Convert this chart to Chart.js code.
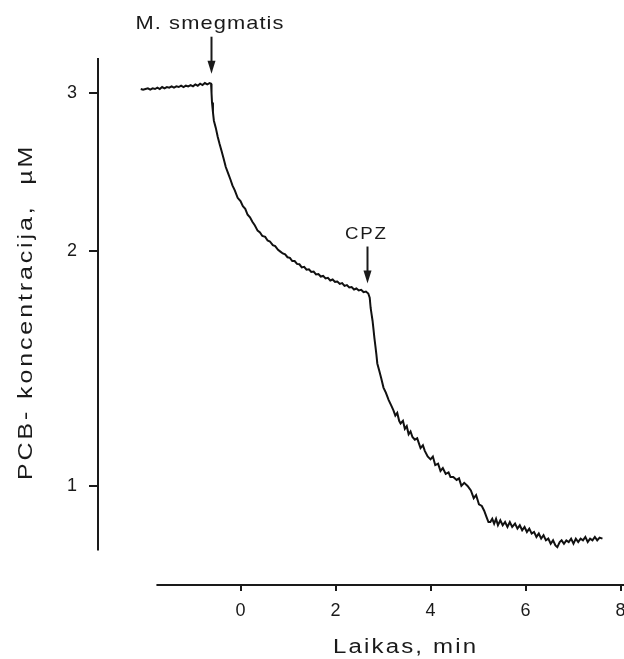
<!DOCTYPE html>
<html>
<head>
<meta charset="utf-8">
<script src="https://cdn.jsdelivr.net/npm/chart.js@4.4.1/dist/chart.umd.min.js"></script>
<style>
  html, body { margin: 0; padding: 0; background: #fff; }
  #wrap { width: 624px; height: 659px; }
</style>
</head>
<body>
<div id="wrap"><canvas id="c" width="624" height="659"></canvas></div>
<script>
// ---- data (time in min, PCB concentration in µM) ----
const TIME_MIN = [
  -2.10,-2.05,-2.00,-1.95,-1.90,-1.85,-1.80,-1.75,-1.70,-1.65,-1.60,-1.55,-1.50,-1.45,-1.40,-1.35,
  -1.30,-1.25,-1.20,-1.15,-1.10,-1.05,-1.00,-0.95,-0.90,-0.85,-0.80,-0.75,-0.70,-0.65,-0.62,
  -0.61,-0.60,-0.58,-0.56,-0.52,-0.48,-0.44,-0.40,-0.36,-0.31,-0.26,-0.21,-0.17,-0.12,-0.06,
  0.00,0.05,0.10,0.15,0.20,0.25,0.30,0.36,0.41,0.46,0.52,0.57,0.62,0.68,0.73,0.79,0.84,0.89,
  0.94,0.99,1.04,1.09,1.14,1.19,1.24,1.29,1.34,1.39,1.44,1.49,1.54,1.59,1.64,1.69,1.74,1.79,
  1.84,1.89,1.94,1.99,2.04,2.09,2.14,2.19,2.24,2.29,2.34,2.39,2.44,2.49,2.54,2.59,2.64,2.69,
  2.72,2.74,2.76,2.78,2.80,2.82,2.84,2.86,2.88,2.92,2.96,3.01,3.06,3.12,3.17,3.22,3.26,3.30,
  3.34,3.37,3.42,3.46,3.50,3.54,3.58,3.62,3.67,3.72,3.79,3.84,3.88,3.94,4.00,4.05,4.10,4.16,
  4.21,4.26,4.32,4.38,4.42,4.48,4.55,4.60,4.65,4.71,4.78,4.85,4.91,4.96,5.02,5.08,5.13,5.18,
  5.22,5.26,5.30,5.34,5.38,5.42,5.47,5.52,5.57,5.62,5.67,5.72,5.78,5.83,5.88,5.93,5.98,6.03,
  6.08,6.13,6.18,6.23,6.28,6.33,6.38,6.43,6.48,6.53,6.58,6.63,6.67,6.72,6.76,6.81,6.86,6.91,
  6.96,7.01,7.06,7.11,7.16,7.21,7.26,7.31,7.36,7.41,7.46,7.51,7.56,7.62
];
const CONC_UM = [
  3.030,3.025,3.030,3.035,3.025,3.035,3.030,3.040,3.030,3.045,3.035,3.045,3.040,3.050,3.040,3.050,
  3.045,3.055,3.045,3.055,3.050,3.060,3.050,3.065,3.055,3.070,3.060,3.075,3.065,3.075,3.070,
  3.000,2.930,2.860,2.800,2.750,2.690,2.640,2.595,2.550,2.490,2.450,2.410,2.375,2.345,2.300,
  2.280,2.250,2.235,2.200,2.185,2.160,2.140,2.110,2.100,2.080,2.075,2.055,2.050,2.030,2.025,2.005,1.995,1.985,
  1.980,1.965,1.962,1.945,1.945,1.930,1.928,1.912,1.915,1.900,1.902,1.888,1.890,1.876,1.878,1.865,1.868,1.855,
  1.858,1.845,1.850,1.838,1.840,1.828,1.832,1.818,1.822,1.810,1.812,1.800,1.805,1.795,1.798,1.787,1.790,1.780,
  1.760,1.710,1.680,1.650,1.610,1.570,1.535,1.500,1.460,1.430,1.400,1.360,1.340,1.310,1.290,1.270,1.250,1.260,
  1.230,1.220,1.230,1.200,1.210,1.180,1.190,1.170,1.160,1.165,1.130,1.140,1.120,1.100,1.090,1.100,1.070,1.075,
  1.050,1.060,1.040,1.045,1.030,1.030,1.020,1.025,1.000,1.010,1.000,0.985,0.960,0.970,0.940,0.935,0.920,0.900,
  0.885,0.885,0.895,0.880,0.895,0.875,0.890,0.875,0.885,0.870,0.885,0.870,0.880,0.865,0.875,0.860,0.870,0.855,
  0.865,0.850,0.855,0.840,0.850,0.835,0.845,0.830,0.835,0.820,0.830,0.815,0.810,0.825,0.830,0.820,0.830,0.825,
  0.835,0.820,0.835,0.825,0.835,0.830,0.840,0.825,0.835,0.830,0.840,0.830,0.838,0.835
];
const X_TICKS = [0, 2, 4, 6, 8];
const Y_TICKS = [1, 2, 3];
const EVENT_LABELS = ['M. smegmatis', 'CPZ'];
const EVENT_TIME = [-0.62, 2.67];
const EVENT_CONC = [3.07, 1.78];
const X_TITLE = 'Laikas, min';
const Y_TITLE = 'PCB- koncentracija,  µM';

// ---- a compressed (shifted logarithmic) value axis, as in the original plot ----
const SHIFT = 0.6;
class ShiftedLogScale extends Chart.Scale {
  static id = 'shiftedLog';
  static defaults = {};
  determineDataLimits() { this.min = this.options.min; this.max = this.options.max; }
  buildTicks() { return Y_TICKS.map(v => ({ value: v })); }
  configure() {
    super.configure();
    this._s = Math.log(this.min + SHIFT);
    this._r = Math.log(this.max + SHIFT) - this._s;
  }
  getLabelForValue(v) { return String(v); }
  getPixelForValue(v) { return this.getPixelForDecimal((Math.log(v + SHIFT) - this._s) / this._r); }
  getValueForPixel(p) { return Math.exp(this.getDecimalForPixel(p) * this._r + this._s) - SHIFT; }
}
Chart.register(ShiftedLogScale);

const FONT = "'Liberation Sans', Arial, sans-serif";
const INK = '#1a1a1a';

// draw text stretched horizontally (in its own direction) with extra tracking
function wideText(ctx, text, x, y, size, stretch, track, rot) {
  ctx.save();
  ctx.translate(x, y);
  if (rot) ctx.rotate(rot);
  ctx.scale(stretch, 1);
  ctx.font = size + 'px ' + FONT;
  ctx.letterSpacing = track + 'px';
  ctx.textAlign = 'left';
  ctx.textBaseline = 'alphabetic';
  ctx.fillText(text, 0, 0);
  ctx.restore();
}
function wideWidth(ctx, text, size, stretch, track) {
  ctx.save();
  ctx.font = size + 'px ' + FONT;
  ctx.letterSpacing = '0px';
  const w = ctx.measureText(text).width;
  ctx.restore();
  return (w + track * (text.length - 1)) * stretch;
}

const overlay = {
  id: 'overlay',
  afterDraw(chart) {
    const { ctx } = chart;
    const xs = chart.scales.x, ys = chart.scales.y;
    ctx.save();
    ctx.strokeStyle = INK;
    ctx.fillStyle = INK;
    ctx.lineWidth = 2;
    // detached axis lines
    ctx.beginPath();
    ctx.moveTo(ys.right, ys.getPixelForValue(3.27));
    ctx.lineTo(ys.right, ys.getPixelForValue(0.80));
    ctx.stroke();
    ctx.beginPath();
    ctx.moveTo(xs.getPixelForValue(-1.77), xs.top);
    ctx.lineTo(xs.getPixelForValue(8.2), xs.top);
    ctx.stroke();

    // event arrows + labels
    const sizes = [19, 17], stretch = [1.15, 1.1], track = [0.95, 1.6];
    EVENT_LABELS.forEach((lab, i) => {
      const px = Math.round(xs.getPixelForValue(EVENT_TIME[i])) + 0.5;
      const tip = ys.getPixelForValue(EVENT_CONC[i]) - 10;
      ctx.lineWidth = 2;
      ctx.beginPath();
      ctx.moveTo(px, tip - 37);
      ctx.lineTo(px, tip - 12);
      ctx.stroke();
      ctx.beginPath();
      ctx.moveTo(px - 4, tip - 13);
      ctx.lineTo(px + 4, tip - 13);
      ctx.lineTo(px, tip);
      ctx.closePath();
      ctx.fill();
      const w = wideWidth(ctx, lab, sizes[i], stretch[i], track[i]);
      wideText(ctx, lab, px - 2 - w / 2, tip - 45, sizes[i], stretch[i], track[i], 0);
    });

    // axis titles
    wideText(ctx, X_TITLE, 333, 653, 20, 1.2, 1.8, 0);
    wideText(ctx, Y_TITLE, 32, 480, 20, 1.25, 2.3, -Math.PI / 2);

    ctx.restore();
  }
};

new Chart(document.getElementById('c'), {
  type: 'line',
  data: {
    datasets: [{
      data: TIME_MIN.map((t, i) => ({ x: t, y: CONC_UM[i] })),
      borderColor: '#111',
      borderWidth: 2,
      pointRadius: 0,
      tension: 0,
      fill: false
    }]
  },
  options: {
    responsive: false,
    animation: false,
    devicePixelRatio: 1,
    layout: { padding: { top: 58, right: 3.5, left: 0, bottom: 0 } },
    plugins: { legend: { display: false }, tooltip: { enabled: false } },
    scales: {
      x: {
        type: 'linear', min: -3, max: 8,
        afterBuildTicks: s => { s.ticks = X_TICKS.map(v => ({ value: v })); },
        afterFit: s => { s.height = 74; s.paddingLeft = 0; s.paddingRight = 0; },
        grid: { drawOnChartArea: false, drawTicks: true, tickLength: 6, color: INK, lineWidth: 2 },
        border: { display: false },
        ticks: { font: { family: FONT, size: 18 }, color: INK, padding: 9, maxRotation: 0, autoSkip: false }
      },
      y: {
        type: 'shiftedLog', position: 'left', min: 0.704, max: 3.27,
        afterFit: s => { s.width = 98; s.paddingTop = 0; s.paddingBottom = 0; },
        grid: { drawOnChartArea: false, drawTicks: true, tickLength: 9, color: INK, lineWidth: 2 },
        border: { display: false },
        ticks: { font: { family: FONT, size: 18 }, color: INK, padding: 12 }
      }
    }
  },
  plugins: [overlay]
});
</script>
</body>
</html>
